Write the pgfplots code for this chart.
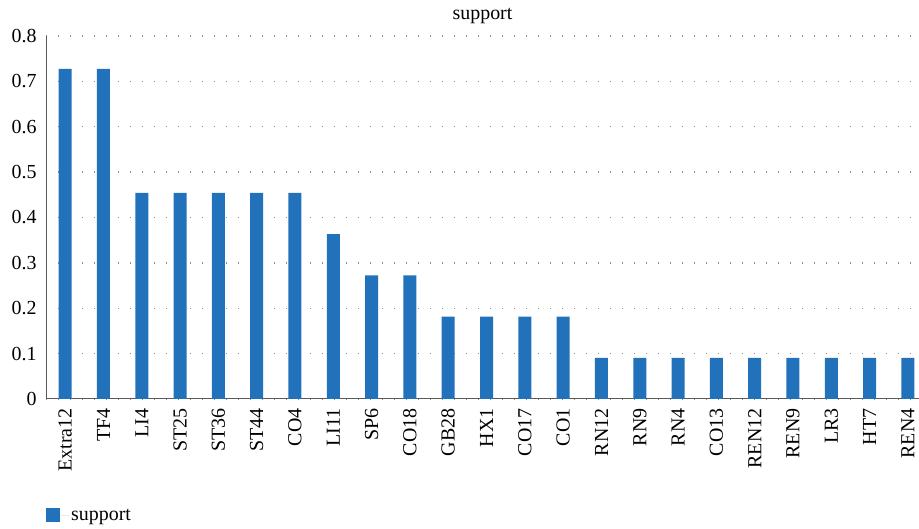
\documentclass[border=0pt]{standalone}
\usepackage{fontspec}
\setmainfont{Liberation Serif}
\usepackage{pgfplots}
\pgfplotsset{compat=1.18}
\definecolor{barblue}{RGB}{34,113,187}
\definecolor{axisgray}{RGB}{90,90,90}
\definecolor{gridgray}{RGB}{140,140,140}
\begin{document}
\begin{tikzpicture}
\path[use as bounding box] (0,0) rectangle (919bp,529bp);
\begin{axis}[
    at={(46bp,130bp)}, anchor=south west,
    scale only axis,
    width=873bp, height=363bp,
    font=\fontsize{20}{24}\selectfont,
    /pgf/number format/assume math mode=true,
    title={support},
    title style={at={(0.5,1)}, anchor=center, yshift=14bp},
    axis y line*=left,
    axis x line*=bottom,
    axis line style={axisgray, line width=1bp, -},
    xmin=-0.5, xmax=22.29,
    ymin=0, ymax=0.8,
    ytick={0,0.1,...,0.8},
    yticklabel style={/pgf/number format/fixed, /pgf/number format/precision=1, xshift=-6bp},
    xtick=data,
    xticklabels={Extra12,TF4,LI4,ST25,ST36,ST44,CO4,LI11,SP6,CO18,GB28,HX1,CO17,CO1,
                 RN12,RN9,RN4,CO13,REN12,REN9,LR3,HT7,REN4},
    x tick label style={rotate=90, anchor=east, xshift=-6bp},
    major tick length=0pt,
    ymajorgrids,
    major grid style={gridgray, line width=1.3bp, dash pattern=on 1.3bp off 10.7bp},
    legend style={at={(0,-0.32)}, anchor=west, draw=none, fill=none,
                  inner sep=0pt, legend cell align=left},
    legend image code/.code={%
      \path (0bp,0bp) -- (23bp,0bp);
      \fill[barblue] (0bp,-7bp) rectangle (14bp,7bp);},
  ]
% PLOT: support per point
\addplot[ybar, bar width=13bp, fill=barblue, draw=none]
coordinates {
  (0,0.7273)
  (1,0.7273)
  (2,0.4545)
  (3,0.4545)
  (4,0.4545)
  (5,0.4545)
  (6,0.4545)
  (7,0.3636)
  (8,0.2727)
  (9,0.2727)
  (10,0.1818)
  (11,0.1818)
  (12,0.1818)
  (13,0.1818)
  (14,0.0909)
  (15,0.0909)
  (16,0.0909)
  (17,0.0909)
  (18,0.0909)
  (19,0.0909)
  (20,0.0909)
  (21,0.0909)
  (22,0.0909)
};
\addlegendentry{support}
\end{axis}
\end{tikzpicture}
\end{document}
